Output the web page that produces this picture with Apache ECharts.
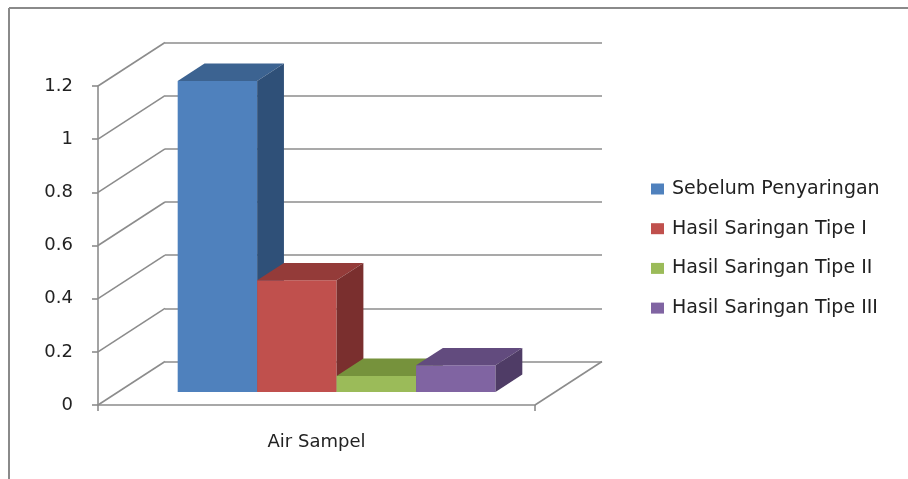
<!DOCTYPE html>
<html>
<head>
<meta charset="utf-8">
<style>
  html, body { margin: 0; padding: 0; background: #ffffff; }
  #chart { width: 908px; height: 479px; }
</style>
<script src="https://cdn.jsdelivr.net/npm/echarts@6/dist/echarts.min.js"></script>
</head>
<body>
<div id="chart"></div>
<script>
// Category and series
const categories = ['Air Sampel'];
const seriesNames = [
  'Sebelum Penyaringan',
  'Hasil Saringan Tipe I',
  'Hasil Saringan Tipe II',
  'Hasil Saringan Tipe III'
];
const sebelumPenyaringan = [1.17];
const saringanTipeI = [0.42];
const saringanTipeII = [0.06];
const saringanTipeIII = [0.10];
const yTicks = [0, 0.2, 0.4, 0.6, 0.8, 1, 1.2];

const seriesValues = [sebelumPenyaringan, saringanTipeI, saringanTipeII, saringanTipeIII];

// Face colours for each box: front, top, side
const faceColors = [
  ['#4F81BD', '#3C6391', '#2F5078'],
  ['#C0504D', '#943B39', '#7A2F2E'],
  ['#9BBB59', '#76923C', '#5F7A30'],
  ['#8064A2', '#624B7E', '#4F3C66']
];

// Oblique depth of the plot box (front plane -> back wall)
const DEPTH_DX = 67;
const DEPTH_DY = -43.5;
// Bars sit in the middle 40% of the depth (gap depth 150%)
const BAR_FRONT = 0.3;
const BAR_DEPTH = 0.4;
const GAP_WIDTH = 1.5;

const FRONT = { left: 98, top: 86, right: 373, bottom: 74 };
const BACK = {
  left: FRONT.left + DEPTH_DX,
  top: FRONT.top + DEPTH_DY,
  right: FRONT.right - DEPTH_DX,
  bottom: FRONT.bottom - DEPTH_DY
};

const GRID_COLOR = '#8c8c8c';
const FONT = 'DejaVu Sans';

function renderBar(params, api) {
  const cat = api.value(0);
  const slot = api.value(2);
  const count = seriesValues.length;
  const top = api.coord([cat, api.value(1)]);
  const base = api.coord([cat, 0]);
  const band = api.size([1, 0])[0];
  const bw = band / (count + GAP_WIDTH);
  const fx = DEPTH_DX * BAR_FRONT, fy = DEPTH_DY * BAR_FRONT;
  const dx = DEPTH_DX * BAR_DEPTH, dy = DEPTH_DY * BAR_DEPTH;
  const x0 = top[0] - bw * count / 2 + slot * bw + fx;
  const x1 = x0 + bw;
  const yt = top[1] + fy;
  const yb = base[1] + fy;
  const c = faceColors[slot];
  return {
    type: 'group',
    children: [
      { type: 'rect', shape: { x: x0, y: yt, width: bw, height: yb - yt },
        style: { fill: c[0] } },
      { type: 'polygon', shape: { points: [[x0, yt], [x1, yt], [x1 + dx, yt + dy], [x0 + dx, yt + dy]] },
        style: { fill: c[1] } },
      { type: 'polygon', shape: { points: [[x1, yt], [x1 + dx, yt + dy], [x1 + dx, yb + dy], [x1, yb]] },
        style: { fill: c[2] } }
    ]
  };
}

// Side-wall diagonals for each tick, plus the right edge of the floor
function renderWall(params, api) {
  const v = api.value(0);
  const cs = params.coordSys;
  const y = api.coord([0, v])[1];
  const lines = [{
    type: 'line',
    shape: { x1: cs.x, y1: y, x2: cs.x + DEPTH_DX, y2: y + DEPTH_DY },
    style: { stroke: GRID_COLOR, lineWidth: 1.6 }
  }];
  if (v === 0) {
    lines.push({
      type: 'line',
      shape: { x1: cs.x + cs.width, y1: y, x2: cs.x + cs.width + DEPTH_DX, y2: y + DEPTH_DY },
      style: { stroke: GRID_COLOR, lineWidth: 1.6 }
    });
  }
  return { type: 'group', children: lines };
}

const chart = echarts.init(document.getElementById('chart'), null, { renderer: 'canvas' });

const barSeries = seriesNames.map((name, i) => ({
  name: name,
  type: 'custom',
  xAxisIndex: 0,
  yAxisIndex: 0,
  z: 3,
  itemStyle: { color: faceColors[i][0] },
  encode: { x: 0, y: 1 },
  data: seriesValues[i].map((v, k) => [k, v, i]),
  renderItem: renderBar
}));

chart.setOption({
  animation: false,
  color: faceColors.map(c => c[0]),
  graphic: [
    { type: 'line', shape: { x1: 9, y1: 8, x2: 908, y2: 8 }, style: { stroke: '#8a8a8a', lineWidth: 2 } },
    { type: 'line', shape: { x1: 9, y1: 8, x2: 9, y2: 479 }, style: { stroke: '#8a8a8a', lineWidth: 2 } }
  ],
  legend: {
    orient: 'vertical',
    left: 651,
    top: 179.5,
    padding: 0,
    itemWidth: 13,
    itemHeight: 11,
    itemGap: 20.7,
    icon: 'rect',
    textStyle: { fontFamily: FONT, fontSize: 19, color: '#222', lineHeight: 19, padding: [0, 0, 0, 3] },
    data: seriesNames
  },
  grid: [
    Object.assign({}, FRONT),
    Object.assign({}, BACK)
  ],
  xAxis: [
    {
      type: 'category',
      gridIndex: 0,
      data: categories,
      axisLine: { lineStyle: { color: GRID_COLOR, width: 1.6 } },
      axisTick: { show: true, length: 6, lineStyle: { color: GRID_COLOR, width: 1.6 } },
      axisLabel: { margin: 28, fontFamily: FONT, fontSize: 18, color: '#222' },
      splitLine: { show: false }
    },
    {
      type: 'category',
      gridIndex: 1,
      data: categories,
      show: false
    }
  ],
  yAxis: [
    {
      type: 'value',
      gridIndex: 0,
      min: 0,
      max: 1.2,
      interval: 0.2,
      axisLine: { show: true, lineStyle: { color: GRID_COLOR, width: 1.6 } },
      axisTick: { show: true, length: 6, lineStyle: { color: GRID_COLOR, width: 1.6 } },
      axisLabel: {
        margin: 25, fontFamily: FONT, fontSize: 18, color: '#222',
        formatter: v => String(Math.round(v * 10) / 10)
      },
      splitLine: { show: false }
    },
    {
      type: 'value',
      gridIndex: 1,
      min: 0,
      max: 1.2,
      interval: 0.2,
      axisLine: { show: false },
      axisTick: { show: false },
      axisLabel: { show: false },
      splitLine: { show: true, lineStyle: { color: GRID_COLOR, width: 1.6 } }
    }
  ],
  series: [
    {
      type: 'custom',
      name: 'walls',
      xAxisIndex: 0,
      yAxisIndex: 0,
      z: 1,
      silent: true,
      legendHoverLink: false,
      encode: { y: 0 },
      data: yTicks.map(v => [v]),
      renderItem: renderWall
    }
  ].concat(barSeries)
});
</script>
</body>
</html>
